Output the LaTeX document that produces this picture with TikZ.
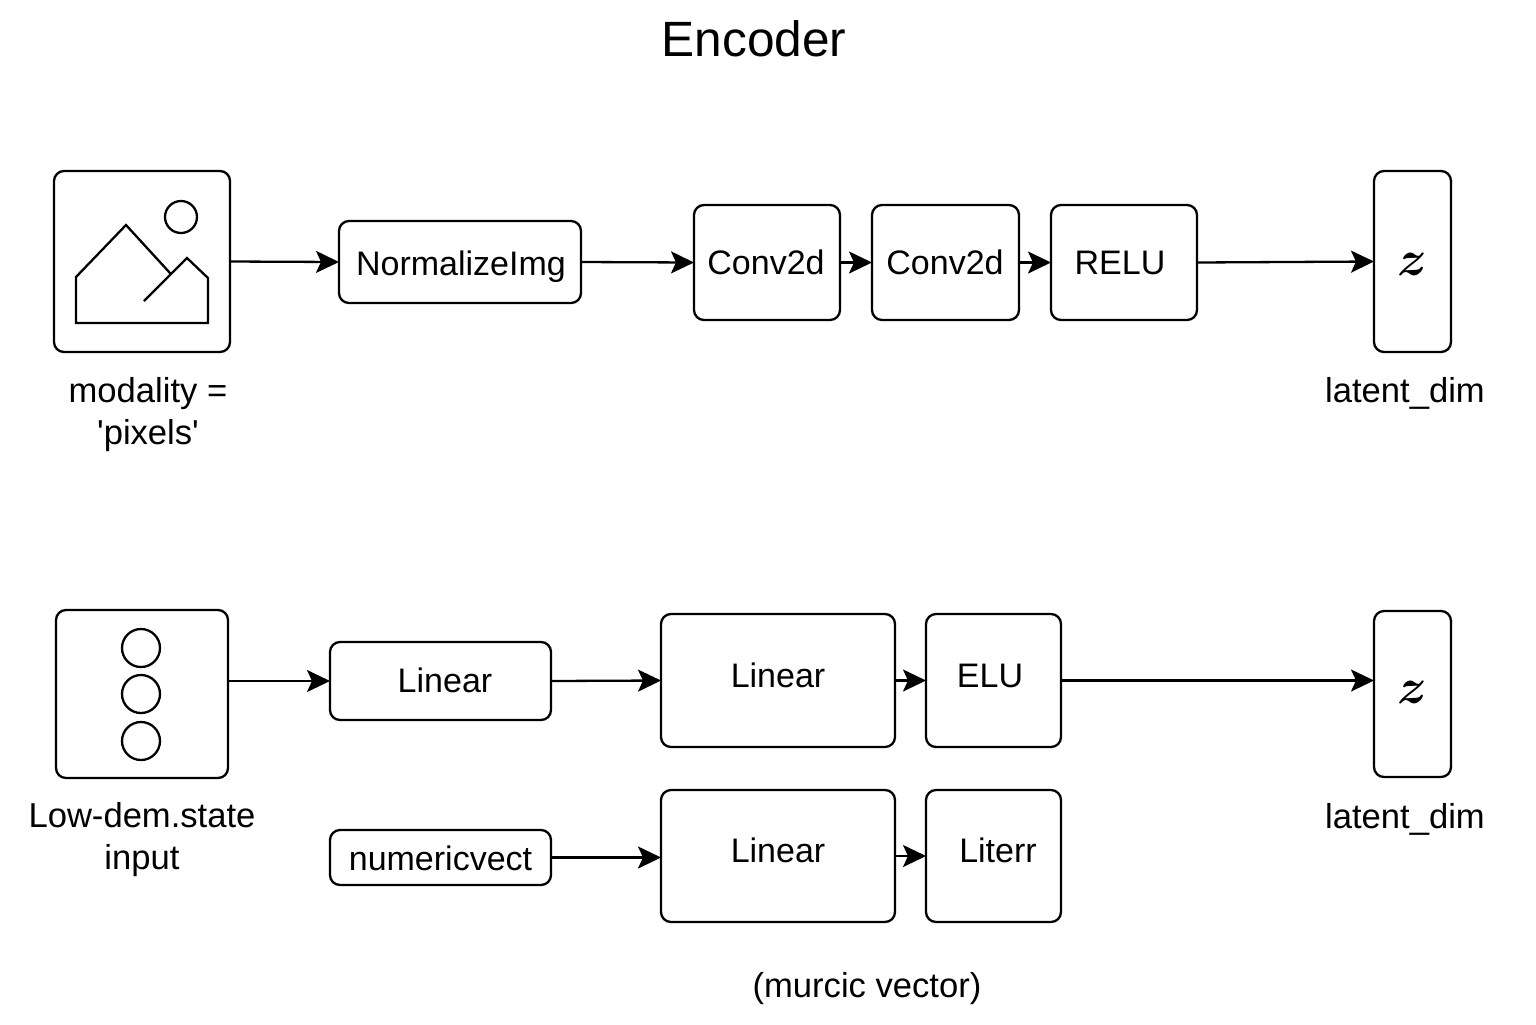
\documentclass[tikz,border=0pt]{standalone}
\usepackage{fontspec}
\setmainfont{Liberation Sans}
\usetikzlibrary{arrows.meta}
\tikzset{
  block/.style={draw, line width=1.15pt, rounded corners=5pt, outer sep=0pt, inner sep=0pt},
  blocktext/.style={inner sep=0pt, text height=13pt, text depth=1pt, font=\fontsize{17}{20}\selectfont},
  latent/.style={inner sep=0pt, font=\fontsize{23}{26}\selectfont\boldmath},
  caption/.style={align=center, inner sep=0pt, font=\fontsize{17.3}{21}\selectfont},
  arrow/.style={-{Stealth[length=11.5pt,width=11pt,inset=2.5pt]}, line width=1.15pt},
  icon/.style={line width=1.15pt}
}
\begin{document}
\begin{tikzpicture}[x=0.5pt,y=-0.5pt]
    \useasboundingbox (0,0) rectangle (1536,1024);

    % Title
    \node[inner sep=0pt, font=\fontsize{24.8}{28}\selectfont] (title) at (754,39) {Encoder};

    %% Pixel branch
    % Blocks
    \node[block, minimum width=88pt, minimum height=90.5pt] (image) at (142,261.5) {};
    \node[block, minimum width=121pt, minimum height=41pt] (normalize) at (460,262) {};
    \node[blocktext] (normalizetext) at (461,263) {NormalizeImg};
    \node[block, minimum width=73pt, minimum height=57.5pt] (convA) at (767,262.5) {};
    \node[blocktext] (convAtext) at (766,262) {Conv2d};
    \node[block, minimum width=73.5pt, minimum height=57.5pt] (convB) at (945.5,262.5) {};
    \node[blocktext] (convBtext) at (945,262) {Conv2d};
    \node[block, minimum width=73pt, minimum height=57.5pt] (relu) at (1124,262.5) {};
    \node[blocktext] (relutext) at (1120,262) {RELU};
    \node[block, minimum width=38.5pt, minimum height=90.5pt] (zA) at (1412.5,261.5) {};
    \node[latent] (zAtext) at (1412.5,264) {$z$};

    % Image icon
    \draw[icon] (181,217) circle(16);
    \draw[icon] (170,273) -- (126,225) -- (76,277) -- (76,323) -- (208,323) -- (208,278) -- (187,258) -- (144,301);

    % Arrows
    \draw[arrow] (image.east) -- (normalize.west);
    \draw[arrow] (normalize.east) -- (convA.west);
    \draw[arrow] (convA.east) -- (convB.west);
    \draw[arrow] (convB.east) -- (relu.west);
    \draw[arrow] (relu.east) -- (zA.west);

    % Captions
    \node[caption] (modality) at (148,415) {modality =\\\textquotesingle pixels\textquotesingle};
    \node[caption] (latentA) at (1405,393) {latent\_dim};

    %% State branch
    % Blocks
    \node[block, minimum width=86pt, minimum height=84pt] (state) at (142,694) {};
    \node[block, minimum width=110.5pt, minimum height=39pt] (linearA) at (440.5,681) {};
    \node[blocktext] (linearAtext) at (445,680) {Linear};
    \node[block, minimum width=117pt, minimum height=66.5pt] (linearB) at (778,680.5) {};
    \node[blocktext] (linearBtext) at (778,675) {Linear};
    \node[block, minimum width=67.5pt, minimum height=66.5pt] (elu) at (993.5,680.5) {};
    \node[blocktext] (elutext) at (990,675) {ELU};
    \node[block, minimum width=38.5pt, minimum height=83pt] (zB) at (1412.5,694) {};
    \node[latent] (zBtext) at (1412.5,692) {$z$};

    % Dots of the state
    \foreach \y in {648,694,741}
        \draw[icon] (141,\y) circle(19);

    % Lower row
    \node[block, minimum width=110.5pt, minimum height=27.5pt] (numeric) at (440.5,857.5) {};
    \node[blocktext] (numerictext) at (440.5,858) {numericvect};
    \node[block, minimum width=117pt, minimum height=66pt] (linearC) at (778,856) {};
    \node[blocktext] (linearCtext) at (778,850) {Linear};
    \node[block, minimum width=67.5pt, minimum height=66pt] (literr) at (993.5,856) {};
    \node[blocktext] (literrtext) at (998,850) {Literr};

    % Arrows
    \draw[arrow] (state.east |- linearA.west) -- (linearA.west);
    \draw[arrow] (linearA.east) -- (linearB.west);
    \draw[arrow] (linearB.east) -- (elu.west);
    \draw[arrow] (elu.east) -- (zB.west |- elu.east);
    \draw[arrow] (numeric.east) -- (linearC.west |- numeric.east);
    \draw[arrow] (linearC.east) -- (literr.west);

    % Captions
    \node[caption] (lowdem) at (142,840) {Low-dem.state\\input};
    \node[caption] (latentB) at (1405,819) {latent\_dim};
    \node[caption] (murcic) at (867,989) {(murcic vector)};

\end{tikzpicture}
\end{document}
